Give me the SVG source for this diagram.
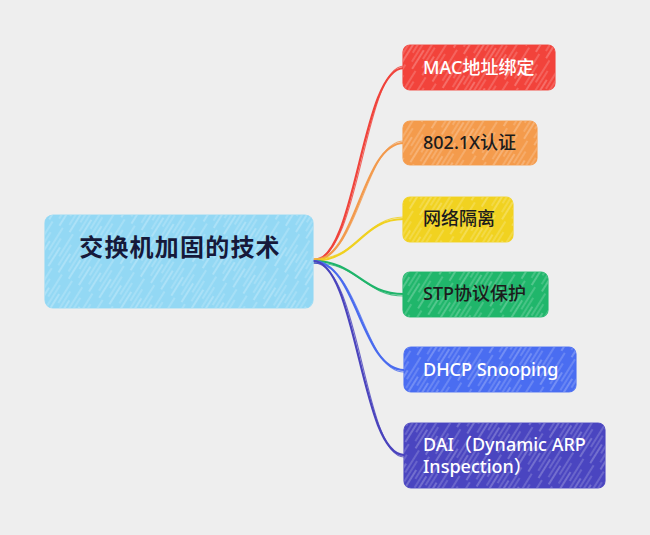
<svg xmlns="http://www.w3.org/2000/svg" width="650" height="535" viewBox="0 0 650 535">
<style>
.box{stroke-width:1.2;stroke-opacity:0.9}
.hatch{fill:url(#hatch)}
.lbl{font-family:"Noto Sans","Noto Sans CJK SC",sans-serif;font-size:18px;font-weight:500}
.w{fill:#ffffff}
.k{fill:#1c1c1c}
.root{font-family:"Noto Sans CJK SC",sans-serif;font-size:24px;font-weight:bold;fill:#16193a;letter-spacing:1.2px}
.c{fill:none;stroke-linecap:round}
.c1{stroke-width:2.2}
.c2{stroke-width:1.1;stroke-opacity:0.8}
</style>
<defs>
<pattern id="hatch" patternUnits="userSpaceOnUse" width="40" height="12" patternTransform="rotate(-58)">
<line x1="0" y1="2" x2="22" y2="2" stroke="#ffffff" stroke-opacity="0.45" stroke-width="1"/>
<line x1="14" y1="6" x2="40" y2="6" stroke="#ffffff" stroke-opacity="0.35" stroke-width="1"/>
<line x1="6" y1="10" x2="30" y2="10" stroke="#ffffff" stroke-opacity="0.4" stroke-width="0.8"/>
</pattern>
</defs>
<rect width="650" height="535" fill="#eeeeee"/>
<g id="connectors">
<path class="c c1" stroke="#f0433b" d="M313,261 C357,261 361,68 404,68"/>
<path class="c c2" stroke="#f0433b" d="M314,259 C360,259 364,66 404,66"/>
<path class="c c1" stroke="#f39a4c" d="M313,261 C357,261 361,143 404,143"/>
<path class="c c2" stroke="#f39a4c" d="M314,259 C360,259 364,141 404,141"/>
<path class="c c1" stroke="#f0d11f" d="M313,261 C357,261 361,219 404,219"/>
<path class="c c2" stroke="#f0d11f" d="M314,259 C360,259 364,217 404,217"/>
<path class="c c1" stroke="#1fb46a" d="M313,261 C357,261 361,294 404,294"/>
<path class="c c2" stroke="#1fb46a" d="M314,263 C360,263 364,296 404,296"/>
<path class="c c1" stroke="#4a6bef" d="M313,261 C357,261 361,370 404,370"/>
<path class="c c2" stroke="#4a6bef" d="M314,263 C360,263 364,372 404,372"/>
<path class="c c1" stroke="#4a43bd" d="M313,261 C357,261 361,455 404,455"/>
<path class="c c2" stroke="#4a43bd" d="M314,263 C360,263 364,457 404,457"/>
</g>
<g id="root">
<rect class="box" x="45" y="215" width="268" height="93" rx="8" fill="#93d8f4" stroke="#93d8f4"/>
<rect class="hatch" x="45" y="215" width="268" height="93" rx="8"/>
<text class="root" x="180" y="256" text-anchor="middle">交换机加固的技术</text>
</g>
<g id="n1">
<rect class="box" x="403" y="45" width="152" height="45" rx="7" fill="#f2433b" stroke="#f2433b"/>
<rect class="hatch" x="403" y="45" width="152" height="45" rx="7"/>
<text class="lbl w" x="423" y="74">MAC地址绑定</text>
</g>
<g id="n2">
<rect class="box" x="403" y="121" width="134" height="44" rx="7" fill="#f49b4c" stroke="#f49b4c"/>
<rect class="hatch" x="403" y="121" width="134" height="44" rx="7"/>
<text class="lbl k" x="423" y="149">802.1X认证</text>
</g>
<g id="n3">
<rect class="box" x="403" y="197" width="110" height="45" rx="7" fill="#f1d220" stroke="#f1d220"/>
<rect class="hatch" x="403" y="197" width="110" height="45" rx="7"/>
<text class="lbl k" x="423" y="225">网络隔离</text>
</g>
<g id="n4">
<rect class="box" x="403" y="272" width="145" height="45" rx="7" fill="#20b66b" stroke="#20b66b"/>
<rect class="hatch" x="403" y="272" width="145" height="45" rx="7"/>
<text class="lbl k" x="423" y="300">STP协议保护</text>
</g>
<g id="n5">
<rect class="box" x="404" y="347" width="172" height="45" rx="7" fill="#4a6df1" stroke="#4a6df1"/>
<rect class="hatch" x="404" y="347" width="172" height="45" rx="7"/>
<text class="lbl w" x="423" y="376">DHCP Snooping</text>
</g>
<g id="n6">
<rect class="box" x="404" y="423" width="201" height="65" rx="7" fill="#4a45c0" stroke="#4a45c0"/>
<rect class="hatch" x="404" y="423" width="201" height="65" rx="7"/>
<text class="lbl w" x="423" y="451">DAI（Dynamic ARP</text>
<text class="lbl w" x="423" y="473">Inspection）</text>
</g>
</svg>
